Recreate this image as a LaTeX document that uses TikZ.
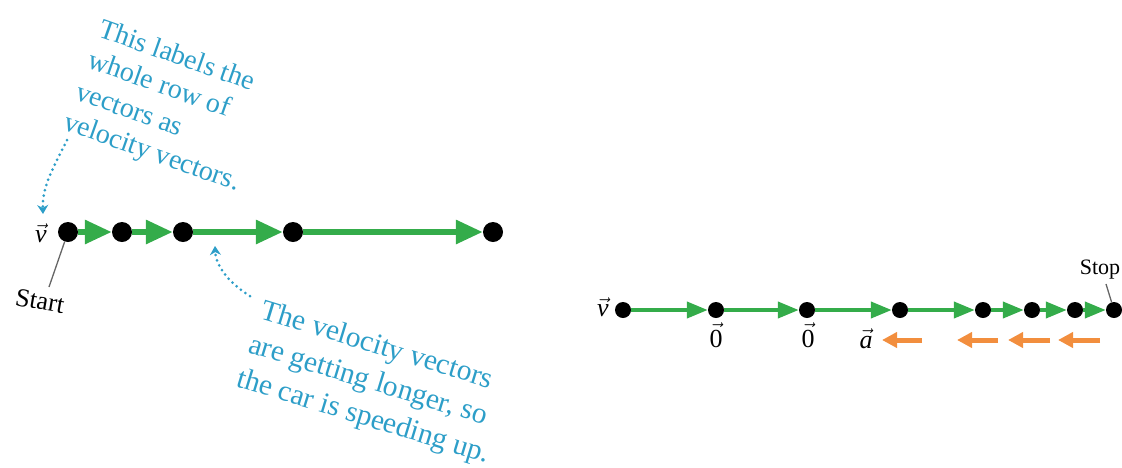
\documentclass[tikz,border=0pt]{standalone}
\usepackage{fontspec}
\setmainfont{Liberation Serif}
\usetikzlibrary{arrows.meta}
\definecolor{annblue}{RGB}{45,158,200}
\definecolor{vgreen}{RGB}{52,172,74}
\definecolor{aorange}{RGB}{242,142,62}
\tikzset{
  ann/.style={text=annblue, font=\fontsize{28}{31}\selectfont, inner sep=0pt, anchor=base west},
  annb/.style={ann, font=\fontsize{29.5}{32}\selectfont},
  dotL/.style={circle, fill=black, inner sep=0pt, minimum size=20pt},
  dotR/.style={circle, fill=black, inner sep=0pt, minimum size=16pt},
  gvecL/.style={draw=vgreen, line width=6pt, -{Triangle[length=27pt,width=23pt]}},
  gvecR/.style={draw=vgreen, line width=4pt, -{Triangle[length=21pt,width=16pt]}},
  avec/.style={draw=aorange, line width=5pt, -{Triangle[length=15pt,width=15pt]}},
  dotarrow/.style={draw=annblue, line width=3pt, dash pattern=on 0pt off 5.5pt, line cap=round, -{Stealth[length=9pt,width=11pt]}},
  lead/.style={draw=black!60, line width=1.3pt},
  lbl/.style={inner sep=0pt, font=\fontsize{26}{28}\selectfont}
}
\begin{document}
\begin{tikzpicture}[x=1pt,y=-1pt]
\useasboundingbox (0,0) rectangle (1122,467);
% left row
\node[dotL] (d1) at (68,232) {};
\node[dotL] (d2) at (122,232) {};
\node[dotL] (d3) at (183,232) {};
\node[dotL] (d4) at (293,232) {};
\node[dotL] (d5) at (493,232) {};
\draw[gvecL] (d1) -- (d2);
\draw[gvecL] (d2) -- (d3);
\draw[gvecL] (d3) -- (d4);
\draw[gvecL] (d4) -- (d5);
\node[lbl] (vL) at (41,233) {$\vec{\textit{v}}$};
\node[lbl, rotate=-10] (start) at (40,301) {Start};
\coordinate (startend) at (49,287);
\draw[lead] (d1) -- (startend);
% top annotation
\node[ann, rotate=-19.5] (t1) at (97,36) {This labels the};
\node[ann, rotate=-19.5] (t2) at (86,67) {whole row of};
\node[ann, rotate=-19.5] (t3) at (74,99) {vectors as};
\node[ann, rotate=-19.5] (t4) at (62,129) {velocity vectors.};
\coordinate (ta) at (67,140);
\coordinate (tb) at (43,214);
\draw[dotarrow] (ta) .. controls (55,165) and (42,185) .. (tb);
% bottom annotation
\node[annb, rotate=-17] (b1) at (259,318) {The velocity vectors};
\node[annb, rotate=-17] (b2) at (247,352) {are getting longer, so};
\node[annb, rotate=-17] (b3) at (235,386) {the car is speeding up.};
\coordinate (ba) at (250,296);
\coordinate (bb) at (215,246);
\draw[dotarrow] (ba) .. controls (232,285) and (216,268) .. (bb);
% right row
\node[dotR] (r1) at (623,310) {};
\node[dotR] (r2) at (716,310) {};
\node[dotR] (r3) at (807,310) {};
\node[dotR] (r4) at (900,310) {};
\node[dotR] (r5) at (983,310) {};
\node[dotR] (r6) at (1032,310) {};
\node[dotR] (r7) at (1075,310) {};
\node[dotR] (r8) at (1114,310) {};
\draw[gvecR] (r1) -- (r2);
\draw[gvecR] (r2) -- (r3);
\draw[gvecR] (r3) -- (r4);
\draw[gvecR] (r4) -- (r5);
\draw[gvecR] (r5) -- (r6);
\draw[gvecR] (r6) -- (r7);
\draw[gvecR] (r7) -- (r8);
\node[lbl] (vR) at (603,307) {$\vec{\textit{v}}$};
\node[lbl] (z1) at (716,335) {$\vec{\textrm{0}}$};
\node[lbl] (z2) at (808,335) {$\vec{\textrm{0}}$};
\node[lbl] (aR) at (866,339) {$\vec{\textit{a}}$};
\node[inner sep=0pt, font=\fontsize{22}{24}\selectfont] (stop) at (1100,270) {Stop};
\coordinate (stopend) at (1106,284);
\draw[lead] (stopend) -- (r8);
% acceleration arrows
\coordinate (a1s) at (922,340); \coordinate (a1e) at (882,340);
\coordinate (a2s) at (998,340); \coordinate (a2e) at (957,340);
\coordinate (a3s) at (1050,340); \coordinate (a3e) at (1008,340);
\coordinate (a4s) at (1100,340); \coordinate (a4e) at (1058,340);
\draw[avec] (a1s) -- (a1e);
\draw[avec] (a2s) -- (a2e);
\draw[avec] (a3s) -- (a3e);
\draw[avec] (a4s) -- (a4e);
\end{tikzpicture}
\end{document}
